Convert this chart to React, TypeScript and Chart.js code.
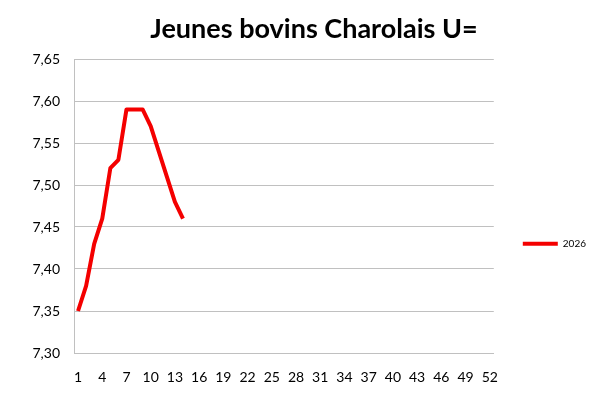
import React, { useEffect, useRef } from "react";
import { Chart, registerables } from "chart.js";

Chart.register(...registerables);

const TITLE = "Jeunes bovins Charolais U=";
const SERIES_LABEL = "2026";
const WEEKS: string[] = Array.from({ length: 52 }, (_, i) => String(i + 1));
const VALUES_2026: number[] = [7.35, 7.38, 7.43, 7.46, 7.52, 7.53, 7.59, 7.59, 7.59, 7.57, 7.54, 7.51, 7.48, 7.46];
const Y_MIN = 7.3;
const Y_MAX = 7.65;
const Y_STEP = 0.05;

const RED = "#f40000";
const GRID = "#c0c0c0";

export default function App() {
  const ref = useRef<HTMLCanvasElement | null>(null);

  useEffect(() => {
    document.body.style.margin = "0";
    const canvas = ref.current;
    if (!canvas) return;
    const chart = new Chart(canvas, {
      type: "line",
      data: {
        labels: WEEKS,
        datasets: [
          {
            label: SERIES_LABEL,
            data: VALUES_2026,
            borderColor: RED,
            backgroundColor: RED,
            borderWidth: 4,
            pointRadius: 0,
            tension: 0,
            borderJoinStyle: "round",
            borderCapStyle: "butt",
            fill: false,
          },
        ],
      },
      options: {
        responsive: false,
        animation: false,
        layout: { padding: { left: 32, right: 4, top: 0, bottom: 0 } },
        font: { family: "Lato" },
        plugins: {
          title: {
            display: true,
            text: TITLE,
            color: "#000",
            font: { family: "Lato", size: 27, weight: "bold" },
            padding: { top: 13, bottom: 13.6 },
          },
          legend: {
            position: "right",
            title: { display: true, text: "", font: { size: 12 }, padding: { top: 77, bottom: 0 } },
            labels: {
              boxWidth: 35,
              boxHeight: 4,
              padding: 29,
              color: "#000",
              font: { family: "Lato", size: 10 },
              generateLabels: (c: any) =>
                Chart.defaults.plugins.legend.labels
                  .generateLabels(c)
                  .map((l: any) => ({ ...l, lineWidth: 0, fillStyle: RED })),
            },
          },
          tooltip: { enabled: false },
        },
        scales: {
          x: {
            offset: true,
            grid: { display: false, drawTicks: false },
            border: { display: true, color: GRID, width: 1 },
            ticks: {
              autoSkip: false,
              maxRotation: 0,
              padding: 16,
              color: "#000",
              font: { family: "Lato", size: 14 },
              callback: (_v: any, i: number) => (i % 3 === 0 ? WEEKS[i] : null),
            },
            afterFit: (s: any) => {
              s.height = 43;
            },
          },
          y: {
            min: Y_MIN,
            max: Y_MAX,
            grid: { color: GRID, drawTicks: false, lineWidth: 1 },
            border: { display: true, color: GRID, width: 1 },
            ticks: {
              stepSize: Y_STEP,
              padding: 14,
              color: "#000",
              font: { family: "Lato", size: 14 },
              callback: (v: any) => Number(v).toFixed(2).replace(".", ","),
            },
            afterFit: (s: any) => {
              s.width = 42;
            },
          },
        },
      },
    });
    return () => chart.destroy();
  }, []);

  return <canvas ref={ref} width={600} height={396} style={{ display: "block" }} />;
}
